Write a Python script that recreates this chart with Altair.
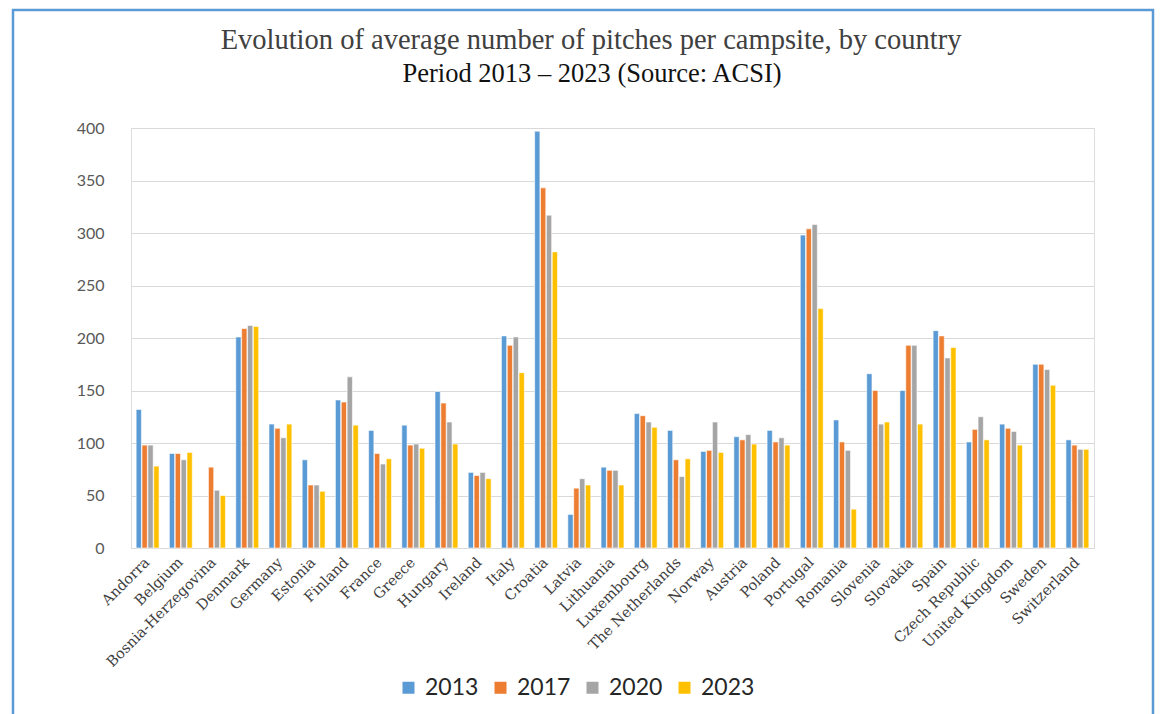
import altair as alt
import pandas as pd

# Average number of pitches per campsite, by country and survey year
countries = [
    "Andorra", "Belgium", "Bosnia-Herzegovina", "Denmark", "Germany", "Estonia",
    "Finland", "France", "Greece", "Hungary", "Ireland", "Italy", "Croatia",
    "Latvia", "Lithuania", "Luxembourg", "The Netherlands", "Norway", "Austria",
    "Poland", "Portugal", "Romania", "Slovenia", "Slovakia", "Spain",
    "Czech Republic", "United Kingdom", "Sweden", "Switzerland",
]
years = ["2013", "2017", "2020", "2023"]
colors = ["#5b9bd5", "#ed7d31", "#a5a5a5", "#ffc000"]

v2013 = [132, 90, None, 201, 118, 84, 141, 112, 117, 149, 72, 202, 397,
         32, 77, 128, 112, 92, 106, 112, 298, 122, 166, 150, 207,
         101, 118, 175, 103]
v2017 = [98, 90, 77, 209, 114, 60, 139, 90, 98, 138, 69, 193, 343,
         57, 74, 126, 84, 93, 103, 101, 304, 101, 150, 193, 202,
         113, 114, 175, 98]
v2020 = [98, 84, 55, 212, 105, 60, 163, 80, 99, 120, 72, 201, 317,
         66, 74, 120, 68, 120, 108, 105, 308, 93, 118, 193, 181,
         125, 111, 170, 94]
v2023 = [78, 91, 50, 211, 118, 54, 117, 85, 95, 99, 66, 167, 282,
         60, 60, 115, 85, 91, 99, 98, 228, 37, 120, 118, 191,
         103, 98, 155, 94]

title_line = "Evolution of average number of pitches per campsite, by country"
subtitle_line = "Period 2013 – 2023 (Source: ACSI)"

series = dict(zip(years, [v2013, v2017, v2020, v2023]))
rows = [
    {"country": c, "year": y, "value": vals[i]}
    for y, vals in series.items()
    for i, c in enumerate(countries)
    if vals[i] is not None
]
df = pd.DataFrame(rows)
single = pd.DataFrame({"item": [0]})

bars = alt.Chart(df).mark_bar(stroke="white", strokeWidth=0.6).encode(
    x=alt.X(
        "country:N",
        sort=countries,
        scale=alt.Scale(paddingInner=0.31, paddingOuter=0.155),
        axis=alt.Axis(
            title=None,
            labelAngle=-45,
            labelAlign="right",
            labelBaseline="middle",
            labelFont="DejaVu Serif",
            labelFontSize=14.5,
            labelColor="#404040",
            labelPadding=12,
            ticks=False,
            domainColor="#d9d9d9",
            domainWidth=1.2,
        ),
    ),
    xOffset=alt.XOffset("year:N", sort=years, scale=alt.Scale(paddingInner=0.1)),
    y=alt.Y(
        "value:Q",
        scale=alt.Scale(domain=[0, 400]),
        axis=alt.Axis(
            title=None,
            values=list(range(0, 401, 50)),
            domain=False,
            ticks=False,
            labelFont="Lato",
            labelFontSize=16,
            labelColor="#595959",
            labelPadding=27,
            gridColor="#d9d9d9",
            gridWidth=1.2,
        ),
    ),
    color=alt.Color(
        "year:N",
        sort=years,
        scale=alt.Scale(domain=years, range=colors),
        legend=alt.Legend(
            title=None,
            orient="none",
            legendX=266,
            legendY=548,
            direction="horizontal",
            symbolType="square",
            symbolSize=144,
            symbolStrokeWidth=0,
            labelFont="Lato",
            labelFontSize=23,
            labelColor="#262626",
            labelOffset=5,
            columnPadding=10,
            padding=0,
        ),
    ),
)

# Blue outline around the whole figure
frame = alt.Chart(single).mark_rect(
    filled=False, stroke="#5b9bd5", strokeWidth=2.5
).encode(
    x=alt.value(-118), x2=alt.value(1022), y=alt.value(-118), y2=alt.value(600)
)

# Two-line heading above the plot
heading = alt.Chart(single).mark_text(
    font="Liberation Serif", fontSize=28.5, color="#404040",
    align="center", baseline="alphabetic",
).encode(x=alt.value(460), y=alt.value(-79), text=alt.value(title_line))

subheading = alt.Chart(single).mark_text(
    font="Liberation Serif", fontSize=26.5, color="#111111",
    align="center", baseline="alphabetic",
).encode(x=alt.value(461), y=alt.value(-46), text=alt.value(subtitle_line))

chart = alt.layer(frame, bars, heading, subheading).properties(
    width=963,
    height=420,
    autosize=alt.AutoSizeParams(type="none"),
    padding={"left": 131, "top": 128, "right": 67, "bottom": 166},
).configure_view(stroke=None).configure(background="white")

chart.save("out.html", embed_options={"renderer": "svg", "actions": False})
